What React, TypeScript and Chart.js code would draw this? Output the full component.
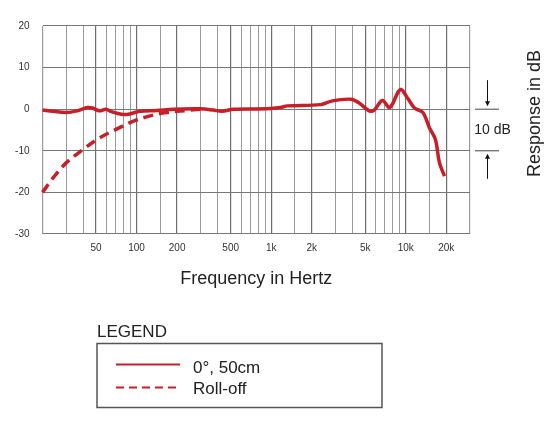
import React, { useEffect, useRef } from "react";
import { Chart, registerables } from "chart.js";

Chart.register(...registerables);

const freqMain = [20, 24, 30, 36, 43, 47, 53, 59, 65, 77, 87, 106, 141, 187, 297, 371, 431, 523, 933, 1170, 1320, 2330, 2850, 3900, 4500, 5350, 5830, 6700, 7600, 9100, 10300, 11600, 13400, 15000, 16600, 17800, 19400];
const dbMain = [-0.2, -0.5, -0.8, -0.4, 0.4, 0.3, -0.4, 0, -0.6, -1.2, -1.2, -0.5, -0.3, 0, 0.1, -0.2, -0.5, 0, 0.1, 0.4, 0.8, 1.1, 2.0, 2.4, 1.5, -0.4, -0.2, 2.1, 0.4, 4.7, 2.7, 0.3, -0.8, -4.5, -7.3, -12.9, -16.1];

const freqRoll = [20, 24, 30, 40, 53, 71, 94, 126, 167, 236, 300];
const dbRoll = [-20, -16.5, -12.9, -9.7, -6.9, -4.8, -2.9, -1.6, -0.8, -0.3, 0];

const gridFreqs = [20, 30, 40, 50, 60, 70, 80, 90, 100, 150, 200, 300, 400, 500, 600, 700, 800, 900, 1000, 1500, 2000, 3000, 4000, 5000, 6000, 7000, 8000, 9000, 10000, 15000, 20000, 30000];
const labelFreqs = [50, 100, 200, 500, 1000, 2000, 5000, 10000, 20000];
const labelTexts = ["50", "100", "200", "500", "1k", "2k", "5k", "10k", "20k"];

const seriesNames = ["0°, 50cm", "Roll-off"];

const RED = "#c81e28";
const FONT = "'Liberation Sans', Arial, Helvetica, sans-serif";
const TEXT = "#222";

const overlayPlugin = {
  id: "overlay",
  afterDraw(chart: any) {
    const ctx = chart.ctx;
    const ca = chart.chartArea;
    const ys = chart.scales.y;
    ctx.save();
    ctx.fillStyle = TEXT;
    // x title
    ctx.font = `18px ${FONT}`;
    ctx.textAlign = "center";
    ctx.textBaseline = "alphabetic";
    ctx.fillText("Frequency in Hertz", (ca.left + ca.right) / 2 + 0, 283.5);
    // y title (right side, rotated)
    ctx.save();
    ctx.translate(540, 113.5);
    ctx.rotate(-Math.PI / 2);
    ctx.fillText("Response in dB", 0, 0);
    ctx.restore();

    // 10 dB marker
    const y0 = ys.getPixelForValue(0);
    const y10 = ys.getPixelForValue(-10);
    const xl = ca.right + 5;
    const xr = ca.right + 29;
    const xm = ca.right + 17.5;
    ctx.strokeStyle = "#444";
    ctx.lineWidth = 1;
    ctx.beginPath();
    ctx.moveTo(xl, y0);
    ctx.lineTo(xr, y0);
    ctx.moveTo(xl, y10);
    ctx.lineTo(xr, y10);
    ctx.stroke();
    ctx.strokeStyle = "#111";
    ctx.fillStyle = "#111";
    // down arrow
    ctx.beginPath();
    ctx.moveTo(xm, y0 - 29);
    ctx.lineTo(xm, y0 - 6);
    ctx.stroke();
    ctx.beginPath();
    ctx.moveTo(xm - 2.5, y0 - 8);
    ctx.lineTo(xm + 2.5, y0 - 8);
    ctx.lineTo(xm, y0 - 3);
    ctx.closePath();
    ctx.fill();
    // up arrow
    ctx.beginPath();
    ctx.moveTo(xm, y10 + 6);
    ctx.lineTo(xm, y10 + 28);
    ctx.stroke();
    ctx.beginPath();
    ctx.moveTo(xm - 2.5, y10 + 8);
    ctx.lineTo(xm + 2.5, y10 + 8);
    ctx.lineTo(xm, y10 + 3);
    ctx.closePath();
    ctx.fill();
    ctx.fillStyle = TEXT;
    ctx.font = `14px ${FONT}`;
    ctx.textAlign = "center";
    ctx.textBaseline = "middle";
    ctx.fillText("10 dB", xm + 5, (y0 + y10) / 2);

    // legend
    ctx.textAlign = "left";
    ctx.textBaseline = "alphabetic";
    ctx.font = `17px ${FONT}`;
    ctx.fillText("LEGEND", 97, 336.7);
    ctx.strokeStyle = "#555";
    ctx.lineWidth = 1.5;
    ctx.strokeRect(97, 343.5, 285, 64);
    const ds = chart.data.datasets;
    const rows = [364.5, 387.5];
    const bases = [372.7, 394.3];
    ds.forEach((d: any, i: number) => {
      ctx.strokeStyle = RED;
      ctx.lineWidth = 2.2;
      ctx.setLineDash(i === 1 ? [8, 5] : []);
      ctx.beginPath();
      ctx.moveTo(116, rows[i]);
      ctx.lineTo(i === 1 ? 177 : 180, rows[i]);
      ctx.stroke();
      ctx.setLineDash([]);
      ctx.fillStyle = TEXT;
      ctx.fillText(d.label, 193, bases[i]);
    });
    ctx.restore();
  },
};

export default function App() {
  const ref = useRef<HTMLCanvasElement>(null);
  useEffect(() => {
    if (!ref.current) return;
    const chart = new Chart(ref.current, {
      type: "line",
      data: {
        datasets: [
          {
            label: seriesNames[0],
            data: freqMain.map((f, i) => ({ x: f, y: dbMain[i] })),
            borderColor: RED,
            borderWidth: 3.5,
            pointRadius: 0,
            tension: 0.35,
            fill: false,
            clip: 6,
          },
          {
            label: seriesNames[1],
            data: freqRoll.map((f, i) => ({ x: f, y: dbRoll[i] })),
            borderColor: RED,
            borderWidth: 3.5,
            borderDash: [10, 6],
            pointRadius: 0,
            tension: 0.35,
            fill: false,
            clip: 6,
          },
        ],
      },
      options: {
        animation: false,
        responsive: false,
        maintainAspectRatio: false,
        layout: { padding: { left: 0, right: 80, top: 26, bottom: 0 } },
        plugins: { legend: { display: false }, tooltip: { enabled: false }, title: { display: false } },
        scales: {
          x: {
            type: "logarithmic",
            min: 20,
            max: 30000,
            afterBuildTicks: (scale: any) => {
              scale.ticks = gridFreqs.map((v) => ({ value: v }));
            },
            afterFit: (scale: any) => {
              scale.height = 189;
            },
            border: { display: false },
            grid: {
              drawTicks: false,
              color: (c: any) => (labelFreqs.includes(c.tick?.value) ? "#6e6e6e" : "#9c9c9c"),
              lineWidth: (c: any) => (labelFreqs.includes(c.tick?.value) || c.tick?.value === 20 || c.tick?.value === 30000 ? 1.2 : 1),
            },
            ticks: {
              autoSkip: false,
              maxRotation: 0,
              padding: 8,
              color: "#333",
              font: { family: FONT, size: 10 },
              callback: (v: any) => {
                const idx = labelFreqs.indexOf(Number(v));
                return idx >= 0 ? labelTexts[idx] : "";
              },
            },
          },
          y: {
            type: "linear",
            min: -30,
            max: 20,
            afterFit: (scale: any) => {
              scale.width = 42.5;
            },
            border: { display: false },
            grid: { drawTicks: false, color: "#777", lineWidth: 1.1 },
            ticks: {
              stepSize: 10,
              padding: 13,
              color: "#333",
              font: { family: FONT, size: 10 },
            },
          },
        },
      },
      plugins: [overlayPlugin],
    } as any);
    return () => chart.destroy();
  }, []);
  return (
    <div style={{ position: "absolute", left: 0, top: 0, width: 550, height: 423, background: "#fff" }}>
      <canvas ref={ref} width={550} height={423} style={{ width: 550, height: 423 }} />
    </div>
  );
}
